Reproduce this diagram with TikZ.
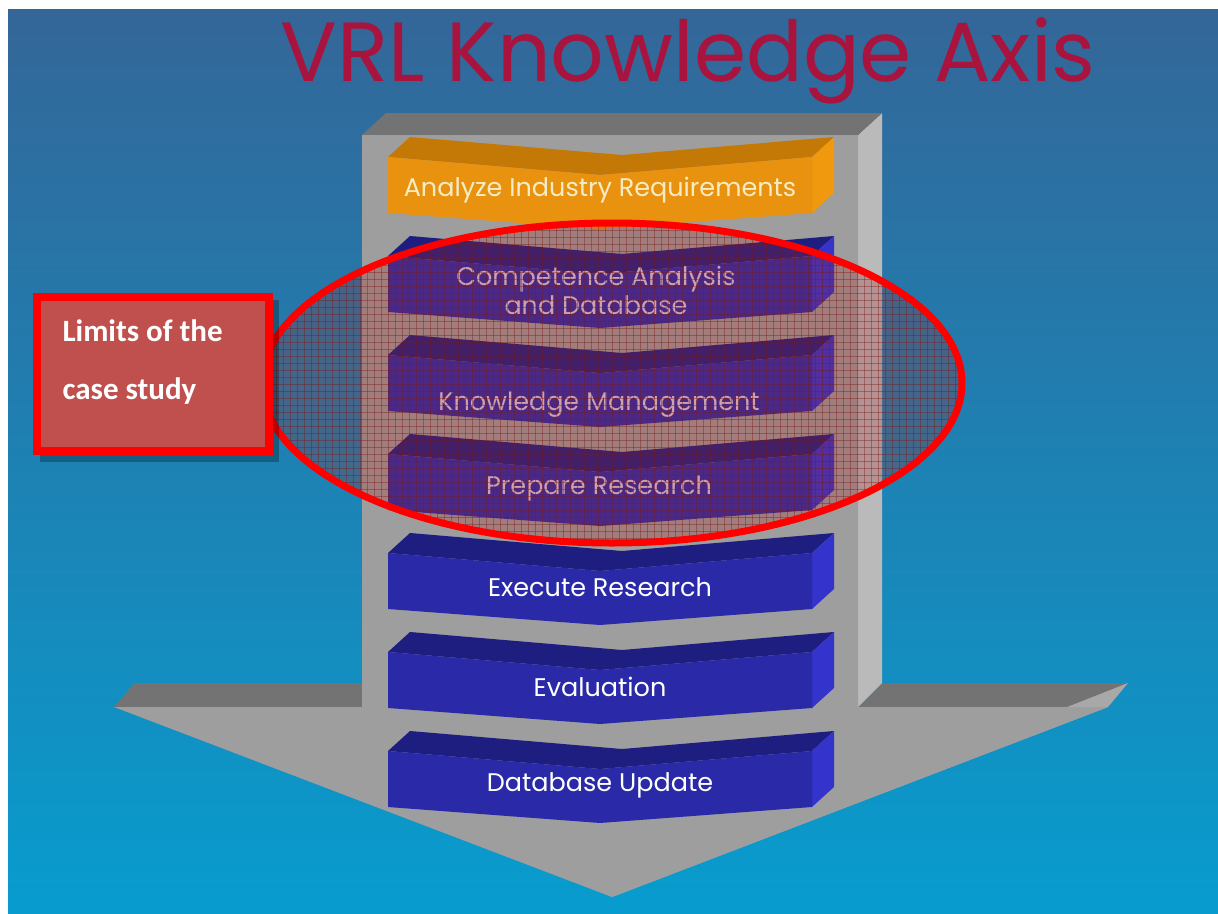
\documentclass[tikz,border=0pt]{standalone}
\usepackage{fontspec}
\newfontfamily\gothic{Poppins}
\newfontfamily\calib{Carlito}
\definecolor{bgtop}{RGB}{52,102,152}
\definecolor{bgbot}{RGB}{8,156,206}
\definecolor{titlered}{RGB}{168,20,62}
\definecolor{arrowfrontc}{RGB}{158,158,158}
\definecolor{arrowtopc}{RGB}{115,115,115}
\definecolor{arrowsidec}{RGB}{186,186,186}
\definecolor{arrowheadside}{RGB}{168,168,168}
\definecolor{orfront}{RGB}{232,146,16}
\definecolor{ortop}{RGB}{196,120,6}
\definecolor{orside}{RGB}{240,152,14}
\definecolor{orlabel}{RGB}{246,236,196}
\definecolor{blfront}{RGB}{42,42,168}
\definecolor{bltop}{RGB}{30,30,128}
\definecolor{blside}{RGB}{52,52,204}
\definecolor{meshred}{RGB}{170,35,30}
\definecolor{meshline}{RGB}{120,25,25}
\definecolor{boxfill}{RGB}{192,80,77}
\definecolor{dimlabel}{RGB}{220,205,220}
\begin{document}
\begin{tikzpicture}[
    x=1pt, y=-1pt,
    titletext/.style={font=\gothic\fontsize{84}{86}\selectfont, text=titlered, anchor=base},
    barlabel/.style={font=\gothic\fontsize{25.5}{29}\selectfont, text=white, align=center},
    limitstext/.style={font=\calib\bfseries\fontsize{31}{36}\selectfont, text=white, anchor=base west},
    gridline/.style={draw=meshline, line width=0.6, opacity=0.4}
]

\useasboundingbox (0,0) rectangle (1218,913);
\fill[white] (0,0) rectangle (1218,913);
\shade[top color=bgtop, bottom color=bgbot] (8,9) rectangle (1218,913);

% Title
\node[titletext] (title) at (688,81) {VRL Knowledge Axis};

% Grey block arrow: wings, side faces, top, front
\fill[arrowtopc] (114,707) -- (135,683) -- (386,683) -- (362,707) -- cycle;
\fill[arrowtopc] (858,707) -- (882,683) -- (1128,683) -- (1108,707) -- cycle;
\fill[arrowheadside] (1108,707) -- (1128,683) -- (636,877) -- (612,897) -- cycle;
\fill[arrowsidec] (858,135) -- (882,113) -- (882,683) -- (858,707) -- cycle;
\fill[arrowtopc] (362,135) -- (386,113) -- (882,113) -- (858,135) -- cycle;
\fill[arrowfrontc] (362,135) -- (858,135) -- (858,707) -- (1108,707)
    -- (612,897) -- (114,707) -- (362,707) -- cycle;

% Chevron bars
\foreach \i/\fc/\tc/\sc in {0/orfront/ortop/orside, 1/blfront/bltop/blside,
    2/blfront/bltop/blside, 3/blfront/bltop/blside, 4/blfront/bltop/blside,
    5/blfront/bltop/blside, 6/blfront/bltop/blside} {
  \pgfmathsetmacro{\bartop}{157+99*\i}
  \fill[\tc] (388,\bartop) -- (410,\bartop-20) -- (622,\bartop-2) -- (834,\bartop-20)
      -- (812,\bartop) -- (600,\bartop+18) -- cycle;
  \fill[\sc] (812,\bartop) -- (834,\bartop-20) -- (834,\bartop+36) -- (812,\bartop+56) -- cycle;
  \fill[\fc] (388,\bartop) -- (600,\bartop+18) -- (812,\bartop) -- (812,\bartop+56)
      -- (600,\bartop+72) -- (388,\bartop+56) -- cycle;
}

% Bar labels
\node[barlabel, text=orlabel] (analyze) at (600,190) {Analyze Industry Requirements};
\node[barlabel, text=dimlabel] (competence) at (596,290) {Competence Analysis\\and Database};
\node[barlabel, text=dimlabel] (knowledge) at (599,405) {Knowledge Management};
\node[barlabel, text=dimlabel] (prepare) at (599,488) {Prepare Research};
\node[barlabel] (execute) at (600,587) {Execute Research};
\node[barlabel] (evaluation) at (600,687) {Evaluation};
\node[barlabel] (dbupdate) at (600,785) {Database Update};

% Limits of the case study: meshed ellipse
\begin{scope}
  \clip (612,383) ellipse [x radius=350, y radius=160];
  \fill[meshred, opacity=0.26] (262,223) rectangle (962,543);
  \foreach \gx in {262,269,...,962} \draw[gridline] (\gx,223) -- (\gx,543);
  \foreach \gy in {223,230,...,543} \draw[gridline] (262,\gy) -- (962,\gy);
\end{scope}
\draw[red, line width=7] (612,383) ellipse [x radius=350, y radius=160];

% Label box
\fill[black, opacity=0.28] (40,300) rectangle (279,462);
\draw[red, line width=8, fill=boxfill] (37,297) rectangle (269,451);
\node[limitstext] (limitsa) at (59,341) {Limits of the};
\node[limitstext] (limitsb) at (59,399) {case study};

\end{tikzpicture}
\end{document}
